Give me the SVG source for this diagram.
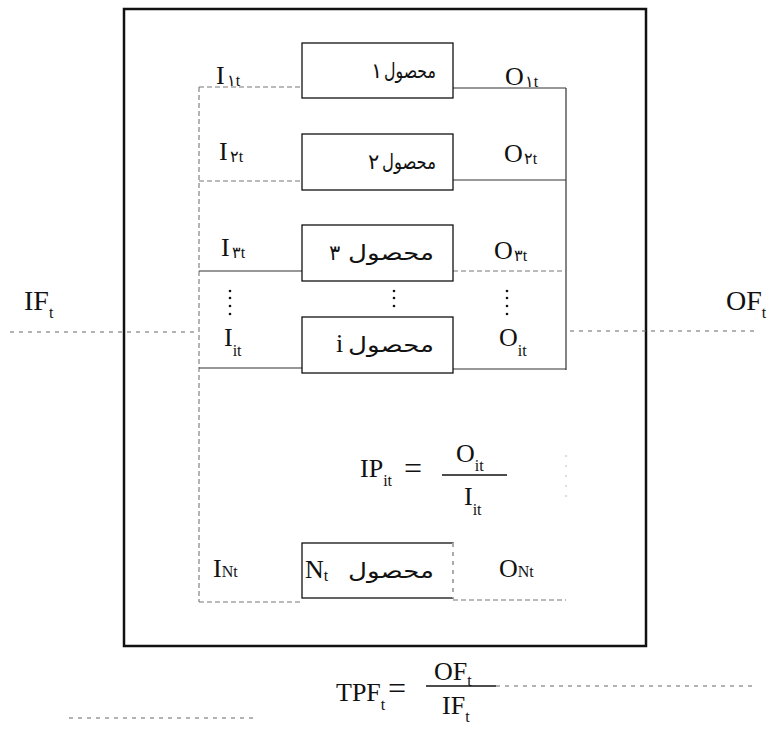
<svg xmlns="http://www.w3.org/2000/svg" width="774" height="742" viewBox="0 0 774 742">
<style>
.t{font-family:"Liberation Serif","Times New Roman",serif;font-size:26px;fill:#111}
.b{font-size:28px}
.eq{font-size:32px}
.s{font-size:16px}
.ar{font-family:"DejaVu Sans",sans-serif;font-size:21px;fill:#111}
.box{fill:#fff;stroke:#111;stroke-width:1.3}
.c{fill:none;stroke:#333;stroke-width:1.2}
.d{fill:none;stroke:#777;stroke-width:1.1;stroke-dasharray:5 3}
.f{fill:none;stroke:#666;stroke-width:1.1;stroke-dasharray:4 5}
.g{fill:none;stroke:#bbb;stroke-width:1;stroke-dasharray:2 8}
.dot{fill:#111}
</style>
<rect x="0" y="0" width="774" height="742" fill="#fff"/>
<g id="frame"><rect x="124" y="9" width="522" height="637" fill="none" stroke="#111" stroke-width="2.5"/></g>
<g id="connectors">
<line class="f" x1="10" y1="332" x2="199" y2="332"/>
<line class="f" x1="570" y1="331" x2="757" y2="331"/>
<line class="d" x1="199" y1="87" x2="199" y2="602"/>
<line class="c" x1="566" y1="88" x2="566" y2="370"/>
<line class="g" x1="566" y1="455" x2="566" y2="505"/>
<line class="d" x1="199" y1="87" x2="302" y2="87"/>
<line class="c" x1="453" y1="88" x2="566" y2="88"/>
<line class="d" x1="199" y1="181" x2="302" y2="181"/>
<line class="c" x1="453" y1="180" x2="566" y2="180"/>
<line class="c" x1="199" y1="271" x2="302" y2="271"/>
<line class="d" x1="453" y1="271" x2="566" y2="271"/>
<line class="c" x1="199" y1="368" x2="302" y2="368"/>
<line class="c" x1="453" y1="369" x2="566" y2="369"/>
<line class="d" x1="199" y1="602" x2="302" y2="602"/>
<line class="d" x1="453" y1="600" x2="566" y2="600"/>
<line class="f" x1="496" y1="686" x2="757" y2="686"/>
<line class="f" x1="69" y1="718" x2="258" y2="718"/>
</g>
<g id="p1"><rect class="box" x="302" y="43" width="151" height="55"/><text class="ar" x="371" y="78">۱</text><text class="ar" x="436" y="78" text-anchor="end" textLength="52" lengthAdjust="spacingAndGlyphs">محصول</text></g>
<g id="p2"><rect class="box" x="302" y="134" width="151" height="56"/><text class="ar" x="368" y="169">۲</text><text class="ar" x="436" y="169" text-anchor="end" textLength="54" lengthAdjust="spacingAndGlyphs">محصول</text></g>
<g id="p3"><rect class="box" x="302" y="225" width="151" height="56"/><text class="ar" x="329" y="260">۳</text><text class="ar" x="434" y="260" text-anchor="end" textLength="86" lengthAdjust="spacingAndGlyphs">محصول</text></g>
<g id="pi"><rect class="box" x="302" y="317" width="151" height="56"/><text class="t" x="336" y="352">i</text><text class="ar" x="434" y="352" text-anchor="end" textLength="86" lengthAdjust="spacingAndGlyphs">محصول</text></g>
<g id="pN"><rect class="box" x="302" y="543" width="151" height="55"/><line x1="453" y1="543" x2="453" y2="598" stroke="#fff" stroke-width="2"/><line class="f" x1="453" y1="543" x2="453" y2="598"/><text class="t" x="305" y="578">N<tspan class="s" dy="3">t</tspan></text><text class="ar" x="434" y="578" text-anchor="end" textLength="86" lengthAdjust="spacingAndGlyphs">محصول</text></g>
<g id="labels">
<text class="t" x="216" y="84">I<tspan class="s" dx="2" dy="2">۱t</tspan></text>
<text class="t" x="505" y="85">O<tspan class="s" dx="1" dy="2">۱t</tspan></text>
<text class="t" x="219" y="160">I<tspan class="s" dx="2" dy="2">۲t</tspan></text>
<text class="t" x="504" y="162">O<tspan class="s" dx="1" dy="2">۲t</tspan></text>
<text class="t" x="221" y="256">I<tspan class="s" dx="2" dy="2">۳t</tspan></text>
<text class="t" x="494" y="259">O<tspan class="s" dx="1" dy="2">۳t</tspan></text>
<text class="t" x="224" y="346">I<tspan class="s" dy="10">it</tspan></text>
<text class="t" x="499" y="346">O<tspan class="s" dy="10">it</tspan></text>
<text class="t" x="213" y="577">I<tspan class="s">Nt</tspan></text>
<text class="t" x="499" y="577">O<tspan class="s">Nt</tspan></text>
<text class="t b" x="24" y="310">IF<tspan class="s" dy="8">t</tspan></text>
<text class="t b" x="726" y="310">OF<tspan class="s" dy="8">t</tspan></text>
</g>
<g id="dots">
<circle class="dot" cx="230" cy="291" r="1.3"/><circle class="dot" cx="230" cy="298" r="1.3"/><circle class="dot" cx="230" cy="306" r="1.3"/><circle class="dot" cx="230" cy="314" r="1.3"/>
<circle class="dot" cx="394" cy="291" r="1.3"/><circle class="dot" cx="394" cy="298" r="1.3"/><circle class="dot" cx="394" cy="306" r="1.3"/>
<circle class="dot" cx="507" cy="291" r="1.3"/><circle class="dot" cx="507" cy="298" r="1.3"/><circle class="dot" cx="507" cy="306" r="1.3"/><circle class="dot" cx="507" cy="314" r="1.3"/>
</g>
<g id="ip">
<text class="t" x="360" y="477">IP<tspan class="s" dy="9">it</tspan></text>
<text class="t eq" x="404" y="479">=</text>
<line x1="442" y1="475" x2="507" y2="475" stroke="#111" stroke-width="1.3"/>
<text class="t" x="456" y="462">O<tspan class="s" dy="9">it</tspan></text>
<text class="t" x="464" y="505">I<tspan class="s" dy="10">it</tspan></text>
</g>
<g id="tpf">
<text class="t" x="336" y="701">TPF<tspan class="s" dy="9">t</tspan></text>
<text class="t eq" x="388" y="699">=</text>
<line x1="426" y1="686" x2="496" y2="686" stroke="#111" stroke-width="1.3"/>
<text class="t" x="434" y="680">OF<tspan class="s" dy="6">t</tspan></text>
<text class="t" x="442" y="714">IF<tspan class="s" dy="8">t</tspan></text>
</g>
</svg>
